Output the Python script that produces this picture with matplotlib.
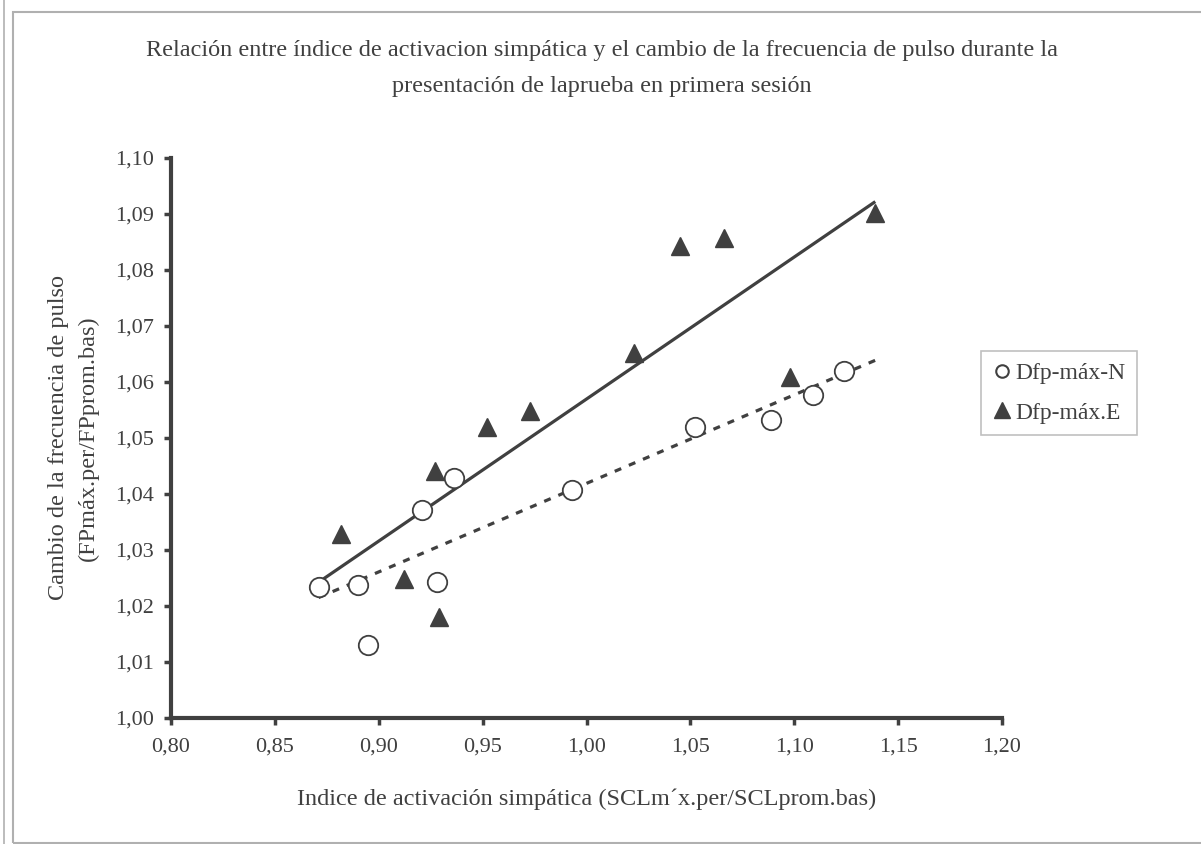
import numpy as np
import matplotlib
matplotlib.use("Agg")
import matplotlib.pyplot as plt
from matplotlib.lines import Line2D
from matplotlib.patches import Rectangle

plt.rcParams["font.family"] = ["Liberation Serif", "DejaVu Serif"]

DARK = "#404040"

# Dfp-máx-N (circulos)
x_n = [0.871, 0.890, 0.895, 0.921, 0.928, 0.936, 0.993, 1.052, 1.089, 1.109, 1.124]
y_n = [1.0234, 1.0238, 1.0131, 1.0372, 1.0243, 1.0429, 1.0408, 1.0520, 1.0533, 1.0577, 1.0620]

# Dfp-máx.E (triangulos)
x_e = [0.882, 0.912, 0.927, 0.929, 0.952, 0.973, 1.023, 1.045, 1.066, 1.098, 1.139]
y_e = [1.0329, 1.0248, 1.0441, 1.0180, 1.0519, 1.0549, 1.0652, 1.0842, 1.0858, 1.0609, 1.0901]

x_ticks = [0.80, 0.85, 0.90, 0.95, 1.00, 1.05, 1.10, 1.15, 1.20]
y_ticks = [1.00, 1.01, 1.02, 1.03, 1.04, 1.05, 1.06, 1.07, 1.08, 1.09, 1.10]

title = ("Relación entre índice de activacion simpática y el cambio de la frecuencia de pulso durante la\n"
         "presentación de laprueba en primera sesión")
xlabel = "Indice de activación simpática (SCLm´x.per/SCLprom.bas)"
ylabel = "Cambio de la frecuencia de pulso\n(FPmáx.per/FPprom.bas)"

fig = plt.figure(figsize=(12.01, 8.44), dpi=100)
ax = fig.add_axes([0.1424, 0.1493, 0.8343 - 0.1424, 0.8128 - 0.1493])

# marco de la figura
fig.add_artist(Rectangle((13 / 1201, 1 / 844), 1.2, 1 - 13 / 844, transform=fig.transFigure,
                         fill=False, edgecolor="#b0b0b0", lw=1.5))
fig.add_artist(Line2D([4 / 1201, 4 / 1201], [0, 1], transform=fig.transFigure,
                      color="#b0b0b0", lw=1.2))

# lineas de tendencia (ajuste lineal)
xs = np.array([min(x_n + x_e), max(x_n + x_e)])
pe = np.polyfit(x_e, y_e, 1)
pn = np.polyfit(x_n, y_n, 1)
ax.plot(xs, np.polyval(pe, xs), color=DARK, lw=2.3, solid_capstyle="butt", zorder=2)
ax.plot(xs, np.polyval(pn, xs), color=DARK, lw=2.3, ls=(0, (2.2, 2.6)), zorder=2)

ax.plot(x_n, y_n, "o", ms=14, mfc="white", mec=DARK, mew=1.3, ls="none",
        label="Dfp-máx-N", zorder=3)
ax.plot(x_e, y_e, "^", ms=13.5, color=DARK, ls="none", label="Dfp-máx.E", zorder=3)

ax.set_xlim(0.80, 1.20)
ax.set_ylim(1.00, 1.10)
ax.set_xticks(x_ticks)
ax.set_yticks(y_ticks)
ax.set_xticklabels([f"{v:.2f}".replace(".", ",") for v in x_ticks])
ax.set_yticklabels([f"{v:.2f}".replace(".", ",") for v in y_ticks])

for s in ["top", "right"]:
    ax.spines[s].set_visible(False)
for s in ["left", "bottom"]:
    ax.spines[s].set_color(DARK)
    ax.spines[s].set_linewidth(3)
    ax.spines[s].set_capstyle("projecting")
ax.tick_params(direction="out", length=5, width=2.5, color=DARK,
               labelsize=16, labelcolor=DARK)
ax.tick_params(axis="y", pad=7)
ax.tick_params(axis="x", pad=9)

ax.set_xlabel(xlabel, fontsize=17.5, color=DARK, va="center")
ax.xaxis.set_label_coords(0.5006, -0.146)
ax.set_ylabel(ylabel, fontsize=17.5, color=DARK, va="center", linespacing=1.55)
ax.yaxis.set_label_coords(-0.117, 0.5)

fig.suptitle(title, x=0.501, y=0.919, va="center", fontsize=17.5, color=DARK,
             linespacing=1.95)

leg = ax.legend(loc="upper left", bbox_to_anchor=(981 / 1201, 1 - 351 / 844),
                bbox_transform=fig.transFigure, borderaxespad=0, fontsize=17,
                frameon=True, fancybox=False, edgecolor="#b0b0b0",
                handlelength=0.8, handletextpad=0.15, borderpad=0.5,
                labelspacing=0.75, labelcolor=DARK)
leg.get_frame().set_linewidth(1.2)
leg.legend_handles[0].set_markersize(9)
leg.legend_handles[0].set_markeredgewidth(1.5)
leg.legend_handles[1].set_markersize(12)

fig.savefig("out.png", dpi=100, facecolor="white")
